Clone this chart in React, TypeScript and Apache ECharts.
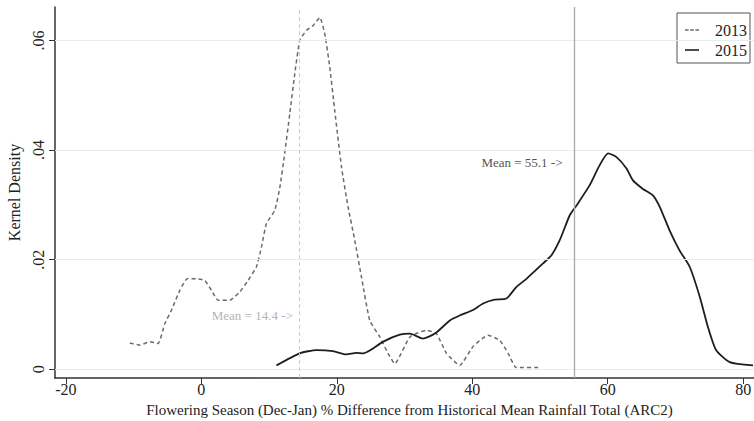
import React, { useEffect, useRef } from "react";
import * as echarts from "echarts";

const x2013 = [-10.55, -9.08, -7.6, -6.37, -5.39, -4.4, -3.17, -2.09, -0.7, 0.52, 1.5, 2.48, 4.2, 5.68, 6.9, 8.15, 8.88, 9.62, 10.85, 11.6, 12.3, 13.06, 13.8, 14.54, 15.5, 16.5, 17.5, 18.23, 18.97, 19.7, 20.7, 21.67, 22.66, 23.65, 24.87, 26.35, 27.57, 28.56, 30.8, 33.2, 34.7, 36.2, 38.15, 40.1, 42.3, 44.06, 45.3, 46.5, 49.96];
const y2013 = [0.0048, 0.0044, 0.005, 0.0047, 0.0083, 0.0108, 0.0144, 0.0165, 0.0165, 0.0162, 0.0144, 0.0126, 0.0126, 0.0141, 0.0162, 0.0187, 0.0223, 0.0266, 0.029, 0.0332, 0.0393, 0.0466, 0.0539, 0.06, 0.0618, 0.0627, 0.0642, 0.0612, 0.0551, 0.0472, 0.0369, 0.0296, 0.0235, 0.0168, 0.0089, 0.0059, 0.0029, 0.001, 0.0059, 0.0071, 0.0065, 0.0029, 0.0007, 0.0041, 0.0062, 0.0053, 0.0029, 0.0003, 0.0003];

const x2015 = [11.1, 14.54, 17.0, 19.45, 21.4, 22.9, 23.9, 25.1, 26.8, 29.3, 30.8, 32.7, 34.5, 36.7, 38.15, 40.1, 41.6, 43.3, 45.05, 46.5, 48.0, 50.45, 51.7, 52.9, 54.4, 55.4, 57.3, 58.8, 60.05, 61.3, 62.8, 63.7, 65.2, 66.7, 67.7, 69.15, 70.6, 72.1, 73.6, 74.8, 76.0, 78.0, 81.45];
const y2015 = [0.0007, 0.0029, 0.0035, 0.0033, 0.0027, 0.003, 0.0029, 0.0036, 0.005, 0.0063, 0.0065, 0.0056, 0.0065, 0.0089, 0.0098, 0.0108, 0.012, 0.0127, 0.0129, 0.015, 0.0165, 0.0193, 0.0208, 0.0235, 0.0281, 0.0299, 0.0335, 0.0372, 0.0394, 0.0387, 0.0366, 0.0345, 0.0329, 0.0317, 0.0296, 0.0253, 0.0217, 0.0187, 0.0132, 0.0077, 0.0035, 0.0013, 0.0007];

const xTicks = [-20, 0, 20, 40, 60, 80];
const yTicks = [0, 0.02, 0.04, 0.06];
const mean2013 = 14.4;
const mean2015 = 55.1;
const meanLabelY2013 = 0.00985;
const meanLabelY2015 = 0.0377;

const FONT = "Liberation Serif, Times New Roman, serif";

const DASH_ICON = "path://M0,0h3.5v1.5h-3.5z M5,0h3.5v1.5h-3.5z M10,0h3.5v1.5h-3.5z";
const SOLID_ICON = "path://M0,0h14v1.6h-14z";

export default function App() {
  const ref = useRef<HTMLDivElement>(null);
  useEffect(() => {
    if (!ref.current) return;
    const chart = echarts.init(ref.current, undefined, { renderer: "svg" });
    const d2013 = x2013.map((x, i) => [x, y2013[i]]);
    const d2015 = x2015.map((x, i) => [x, y2015[i]]);
    chart.setOption({
      animation: false,
      backgroundColor: "#ffffff",
      textStyle: { fontFamily: FONT },
      grid: { left: 55, right: 0, top: 7, bottom: 43, containLabel: false, outerBoundsMode: "none" },
      legend: {
        orient: "vertical",
        right: 4,
        top: 13,
        data: [
          { name: "2013", icon: DASH_ICON },
          { name: "2015", icon: SOLID_ICON },
        ],
        itemWidth: 14,
        itemHeight: 14,
        itemGap: 4,
        padding: [9, 3, 5, 8],
        borderColor: "#555",
        borderWidth: 1,
        textStyle: { fontFamily: FONT, fontSize: 16, color: "#222", padding: [0, 0, 0, 11] },
      },
      xAxis: {
        type: "value",
        min: -21.6,
        max: 81.6,
        name: "Flowering Season (Dec-Jan) % Difference from Historical Mean Rainfall Total (ARC2)",
        nameLocation: "middle",
        nameGap: 24,
        nameTextStyle: { fontFamily: FONT, fontSize: 15, color: "#222", padding: [0, 0, 0, 10] },
        axisLine: { show: true, onZero: false, lineStyle: { color: "#333", width: 1.5 } },
        axisTick: { show: true, length: 6, lineStyle: { color: "#333" }, customValues: xTicks },
        axisLabel: { fontFamily: FONT, fontSize: 16, color: "#222", margin: 3, customValues: xTicks },
        splitLine: { show: false },
      },
      yAxis: {
        type: "value",
        min: -0.0016,
        max: 0.0661,
        name: "Kernel Density",
        nameLocation: "middle",
        nameGap: 33,
        nameRotate: 90,
        nameTextStyle: { fontFamily: FONT, fontSize: 16, color: "#222" },
        axisLine: { show: true, onZero: false, lineStyle: { color: "#333", width: 1.5 } },
        axisTick: { show: true, length: 6, lineStyle: { color: "#333" }, customValues: yTicks },
        axisLabel: {
          fontFamily: FONT,
          fontSize: 16,
          color: "#222",
          rotate: 90,
          margin: 9,
          customValues: yTicks,
          formatter: (v: number) => (v === 0 ? "0" : String(Number(v.toFixed(2))).replace(/^0/, "")),
        },
        splitLine: { show: false },
      },
      series: [
        {
          name: "2013",
          type: "line",
          data: d2013,
          showSymbol: false,
          symbol: "none",
          smooth: 0.15,
          z: 3,
          lineStyle: { color: "#6b6b6b", width: 1.5, type: [4, 3] },
          itemStyle: { color: "#6b6b6b" },
          markLine: {
            silent: true,
            symbol: "none",
            label: { show: false },
            data: [
              ...yTicks.map((v) => ({ yAxis: v, lineStyle: { color: "#e4eeee", width: 1.2, type: "solid" } })),
              { xAxis: mean2013, lineStyle: { color: "#cccccc", width: 1, type: [4, 3] } },
            ],
          },
          markPoint: {
            silent: true,
            symbol: "circle",
            symbolSize: 0,
            data: [{ coord: [mean2013, meanLabelY2013] }],
            label: {
              show: true,
              position: "left",
              distance: 6,
              formatter: "Mean = " + mean2013 + " ->",
              fontFamily: FONT,
              fontSize: 13,
              color: "#b5b5b5",
            },
          },
        },
        {
          name: "2015",
          type: "line",
          data: d2015,
          showSymbol: false,
          symbol: "none",
          smooth: 0.2,
          z: 4,
          lineStyle: { color: "#1e1e1e", width: 1.8, type: "solid" },
          itemStyle: { color: "#1e1e1e" },
          markLine: {
            silent: true,
            symbol: "none",
            label: { show: false },
            data: [{ xAxis: mean2015, lineStyle: { color: "#a8a8a8", width: 1.3, type: "solid" } }],
          },
          markPoint: {
            silent: true,
            symbol: "circle",
            symbolSize: 0,
            data: [{ coord: [mean2015, meanLabelY2015] }],
            label: {
              show: true,
              position: "left",
              distance: 12,
              formatter: "Mean = " + mean2015 + " ->",
              fontFamily: FONT,
              fontSize: 13,
              color: "#555555",
            },
          },
        },
      ],
    });
    return () => chart.dispose();
  }, []);
  return <div ref={ref} style={{ width: 754, height: 421, position: "fixed", left: 0, top: 0 }} />;
}
